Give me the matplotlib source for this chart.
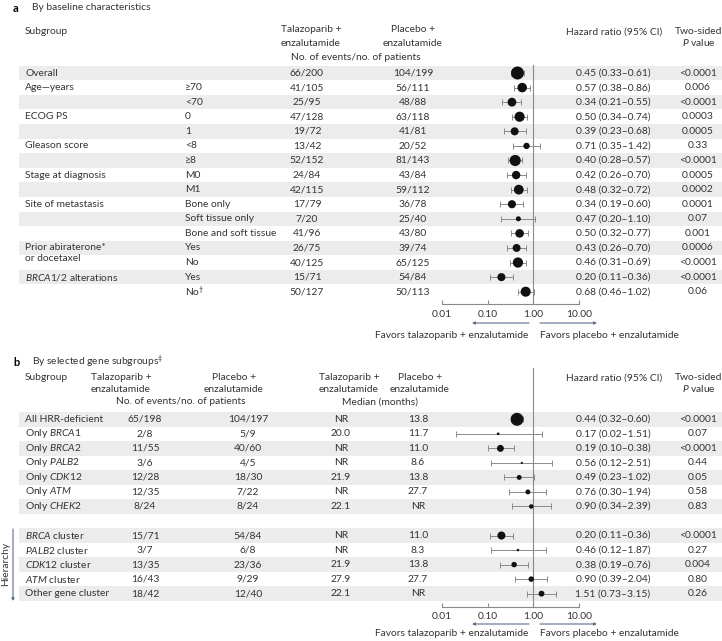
import numpy as np, matplotlib.pyplot as plt, matplotlib as mpl
from matplotlib.patches import Rectangle
from matplotlib.ticker import NullLocator

mpl.rcParams.update({"font.family": ["Lato", "DejaVu Sans"], "font.size": 7.4,
                     "mathtext.fontset": "custom", "mathtext.rm": "Lato",
                     "mathtext.it": "Lato:italic", "mathtext.bf": "Lato:bold"})

# ---- panel a data: baseline characteristics
grp_a = ["Overall", "Age\u2014years", "", "ECOG PS", "", "Gleason score", "", "Stage at diagnosis", "",
         "Site of metastasis", "", "", "Prior abiraterone*", "", "$\\mathit{BRCA1/2}$ alterations", ""]
sub_a = ["", "\u226570", "<70", "0", "1", "<8", "\u22658", "M0", "M1", "Bone only", "Soft tissue only",
         "Bone and soft tissue", "Yes", "No", "Yes", "No$^{\\dagger}$"]
tala_a = ["66/200", "41/105", "25/95", "47/128", "19/72", "13/42", "52/152", "24/84", "42/115", "17/79",
          "7/20", "41/96", "26/75", "40/125", "15/71", "50/127"]
plac_a = ["104/199", "56/111", "48/88", "63/118", "41/81", "20/52", "81/143", "43/84", "59/112", "36/78",
          "25/40", "43/80", "39/74", "65/125", "54/84", "50/113"]
hr_a = np.array([0.45, 0.57, 0.34, 0.50, 0.39, 0.71, 0.40, 0.42, 0.48, 0.34, 0.47, 0.50, 0.43, 0.46, 0.20, 0.68])
lo_a = np.array([0.33, 0.38, 0.21, 0.34, 0.23, 0.35, 0.28, 0.26, 0.32, 0.19, 0.20, 0.32, 0.26, 0.31, 0.11, 0.46])
hi_a = np.array([0.61, 0.86, 0.55, 0.74, 0.68, 1.42, 0.57, 0.70, 0.72, 0.60, 1.10, 0.77, 0.70, 0.69, 0.36, 1.02])
p_a = ["<0.0001", "0.006", "<0.0001", "0.0003", "0.0005", "0.33", "<0.0001", "0.0005", "0.0002", "0.0001",
       "0.07", "0.001", "0.0006", "<0.0001", "<0.0001", "0.06"]

# ---- panel b data: gene subgroups
lab_b = ["All HRR-deficient", "Only $\\mathit{BRCA1}$", "Only $\\mathit{BRCA2}$", "Only $\\mathit{PALB2}$",
         "Only $\\mathit{CDK12}$", "Only $\\mathit{ATM}$", "Only $\\mathit{CHEK2}$",
         "$\\mathit{BRCA}$ cluster", "$\\mathit{PALB2}$ cluster", "$\\mathit{CDK12}$ cluster",
         "$\\mathit{ATM}$ cluster", "Other gene cluster"]
tala_b = ["65/198", "2/8", "11/55", "3/6", "12/28", "12/35", "8/24", "15/71", "3/7", "13/35", "16/43", "18/42"]
plac_b = ["104/197", "5/9", "40/60", "4/5", "18/30", "7/22", "8/24", "54/84", "6/8", "23/36", "9/29", "12/40"]
med_t = ["NR", "20.0", "NR", "NR", "21.9", "NR", "22.1", "NR", "NR", "21.9", "27.9", "22.1"]
med_p = ["13.8", "11.7", "11.0", "8.6", "13.8", "27.7", "NR", "11.0", "8.3", "13.8", "27.7", "NR"]
hr_b = np.array([0.44, 0.17, 0.19, 0.56, 0.49, 0.76, 0.90, 0.20, 0.46, 0.38, 0.90, 1.51])
lo_b = np.array([0.32, 0.02, 0.10, 0.12, 0.23, 0.30, 0.34, 0.11, 0.12, 0.19, 0.39, 0.73])
hi_b = np.array([0.60, 1.51, 0.38, 2.51, 1.02, 1.94, 2.39, 0.36, 1.87, 0.76, 2.04, 3.15])
p_b = ["<0.0001", "0.07", "<0.0001", "0.44", "0.05", "0.58", "0.83", "<0.0001", "0.27", "0.004", "0.80", "0.26"]

ticks = [0.01, 0.1, 1, 10]
tick_lab = ["0.01", "0.10", "1.00", "10.00"]

W, H = 722, 641
TXT = "#333333"; SHADE = "#ececec"; GRID = "#8a8a8a"; ARW = "#5d6f8e"

fig = plt.figure(figsize=(W / 100, H / 100), dpi=100)
bg = fig.add_axes([0, 0, 1, 1]); bg.set_xlim(0, W); bg.set_ylim(H, 0); bg.axis("off")
T = lambda x, y, s, ha="left", **k: bg.text(x, y, s, ha=ha, va="center", color=TXT, **k)

def rect(x0, y0, x1, y1):
    return [x0 / W, 1 - y1 / H, (x1 - x0) / W, (y1 - y0) / H]

def npat(a, b):  # total patients per row, used for marker size
    return np.array([int(x.split("/")[1]) + int(y.split("/")[1]) for x, y in zip(a, b)])

def forest(box, ys, hr, lo, hi, n):
    ax = fig.add_axes(rect(*box)); ax.patch.set_alpha(0)
    ax.set_xscale("log"); ax.set_xlim(0.01, 10); ax.set_ylim(box[3], box[1])
    for s in ["top", "left", "right"]: ax.spines[s].set_visible(False)
    ax.spines["bottom"].set_color(GRID); ax.spines["bottom"].set_linewidth(0.8)
    ax.set_yticks([]); ax.set_xticks(ticks); ax.set_xticklabels(tick_lab)
    ax.xaxis.set_minor_locator(NullLocator())
    ax.tick_params(axis="x", direction="in", length=3, color=GRID, labelcolor=TXT, labelsize=7.4, pad=4)
    ax.axvline(1, color=GRID, lw=0.8, zorder=1)
    ax.errorbar(hr, ys, xerr=[hr - lo, hi - hr], fmt="none", ecolor=GRID, elinewidth=0.7,
                capsize=2.5, capthick=0.7, zorder=2)
    d = 0.65 * np.sqrt(n) * 0.72
    ax.scatter(hr, ys, s=d ** 2, color="#111111", lw=0, zorder=3)
    return ax

def favors(y, off):
    bg.annotate("", xy=(472, y), xytext=(529, y), arrowprops=dict(arrowstyle="-|>", color=ARW, lw=0.8,
                                                                    mutation_scale=4, shrinkA=0, shrinkB=0))
    bg.annotate("", xy=(597, y), xytext=(540, y), arrowprops=dict(arrowstyle="-|>", color=ARW, lw=0.8,
                                                                    mutation_scale=4, shrinkA=0, shrinkB=0))
    T(528, y + off, "Favors talazoparib + enzalutamide", "right")
    T(540, y + off, "Favors placebo + enzalutamide")

# ================= panel a
bg.text(13, 8, "a", fontweight="bold", fontsize=8, va="center", color="black")
T(32, 8, "By baseline characteristics")
T(25, 32, "Subgroup")
T(311, 30, "Talazoparib +", "center"); T(311, 43, "enzalutamide", "center")
T(413, 30, "Placebo +", "center"); T(413, 43, "enzalutamide", "center")
T(356, 57, "No. of events/no. of patients", "center")
T(614, 32, "Hazard ratio (95% CI)", "center")
T(699, 32, "Two-sided", "center"); T(699, 43, "$\\mathit{P}$ value", "center")

dy = 14.58
ya = 73 + dy * np.arange(len(hr_a))
for i in range(0, len(ya), 2):
    bg.add_patch(Rectangle((19, ya[i] - dy / 2), W - 19, dy, color=SHADE, lw=0, zorder=0))
for i, y in enumerate(ya):
    T(25, y, grp_a[i]); T(185, y, sub_a[i])
    T(307, y, tala_a[i], "center"); T(413, y, plac_a[i], "center")
    T(613, y, f"{hr_a[i]:.2f} ({lo_a[i]:.2f}\u2013{hi_a[i]:.2f})", "center")
    T(698, y, p_a[i], "center")
T(25, ya[12] + 10.5, "or docetaxel")
forest((442, 65, 579, 304), ya, hr_a, lo_a, hi_a, npat(tala_a, plac_a))
favors(323, 12)

# ================= panel b
bg.text(13, 362, "b", fontweight="bold", fontsize=8, va="center", color="black")
T(32, 362, "By selected gene subgroups$^{\\ddagger}$")
T(25, 378, "Subgroup")
T(121, 378, "Talazoparib +", "center"); T(121, 389, "enzalutamide", "center")
T(234, 378, "Placebo +", "center"); T(234, 389, "enzalutamide", "center")
T(181, 402, "No. of events/no. of patients", "center")
T(349, 378, "Talazoparib +", "center"); T(349, 389, "enzalutamide", "center")
T(420, 378, "Placebo +", "center"); T(420, 389, "enzalutamide", "center")
T(380, 402, "Median (months)", "center")
T(614, 378, "Hazard ratio (95% CI)", "center")
T(699, 378, "Two-sided", "center"); T(699, 389, "$\\mathit{P}$ value", "center")

dyb = 14.53
slot = np.r_[np.arange(7), np.arange(8, 13)]
yb = 419.3 + dyb * slot
for i, y in enumerate(yb):
    if i in (0, 2, 4, 6, 7, 9, 11):
        bg.add_patch(Rectangle((19, y - dyb / 2), W - 19, dyb, color=SHADE, lw=0, zorder=0))
    T(25, y, lab_b[i])
    T(145, y, tala_b[i], "center"); T(248, y, plac_b[i], "center")
    T(341, y, med_t[i], "center"); T(418, y, med_p[i], "center")
    T(613, y, f"{hr_b[i]:.2f} ({lo_b[i]:.2f}\u2013{hi_b[i]:.2f})", "center")
    T(698, y, p_b[i], "center")
forest((442, 368, 579, 606.7), yb, hr_b, lo_b, hi_b, npat(tala_b, plac_b))
favors(624, 10)

# hierarchy arrow
bg.annotate("", xy=(13, 601), xytext=(13, 529), arrowprops=dict(arrowstyle="-|>", color=ARW, lw=0.8,
                                                                  mutation_scale=4, shrinkA=0, shrinkB=0))
bg.text(6, 564, "Hierarchy", rotation=90, ha="center", va="center", color=TXT)

fig.savefig("out.png", dpi=100)
